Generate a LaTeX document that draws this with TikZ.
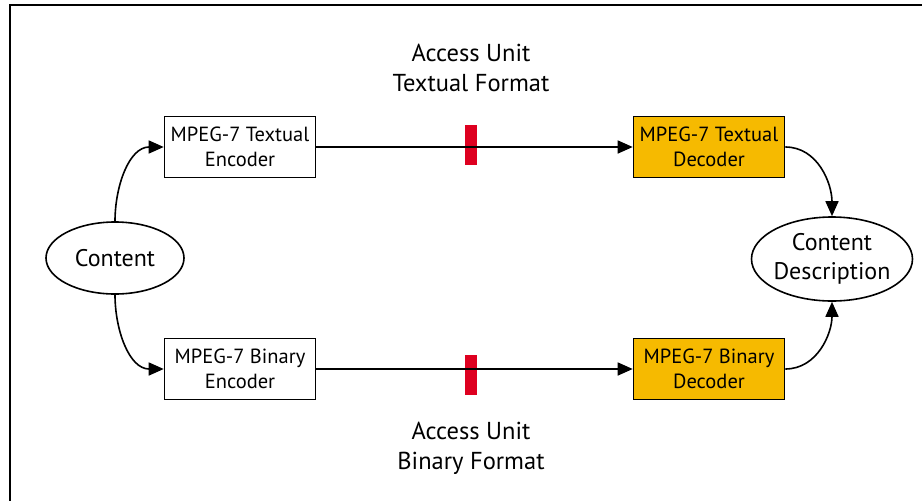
\documentclass[tikz,border=0pt]{standalone}
\usepackage{fontspec}
\setmainfont{PT Sans}
\usetikzlibrary{shapes.geometric,arrows.meta}
\definecolor{codecgold}{RGB}{246,186,0}
\definecolor{aured}{RGB}{222,0,32}
\begin{document}
\begin{tikzpicture}[x=1pt,y=-1pt,
  every node/.style={align=center},
  codec/.style={draw, line width=1.6pt, minimum width=151pt, minimum height=61pt, inner sep=0pt,
    font=\fontsize{20.5}{25}\selectfont},
  decoder/.style={codec, fill=codecgold},
  oval/.style={draw, ellipse, line width=1.6pt, inner sep=0pt, font=\fontsize{24}{29}\selectfont},
  marker/.style={fill=aured, minimum width=12pt, minimum height=40pt, inner sep=0pt},
  label/.style={font=\fontsize{24.5}{30}\selectfont},
  flow/.style={line width=1.6pt, -{Triangle[length=15pt,width=13pt]}}]
\useasboundingbox (0,0) rectangle (922,501);
\fill[white] (0,0) rectangle (922,501);
% frame
\draw[line width=2pt] (10,501) -- (10,5) -- (922,5);

% nodes
\node[oval, minimum width=138pt, minimum height=72pt] (content) at (115,258) {Content};
\node[codec] (tenc) at (240,147) {MPEG-7 Textual\\Encoder};
\node[codec] (benc) at (240,369) {MPEG-7 Binary\\Encoder};
\node[decoder] (tdec) at (709,147) {MPEG-7 Textual\\Decoder};
\node[decoder] (bdec) at (709,369) {MPEG-7 Binary\\Decoder};
\node[oval, inner xsep=-4pt, minimum width=161pt, minimum height=84pt] (desc) at (832,259) {Content\\Description};

% access unit markers
\node[marker] (tau) at (471,145) {};
\node[marker] (bau) at (471,375) {};
\node[label] (tlabel) at (471,68) {Access Unit\\Textual Format};
\node[label] (blabel) at (471,448) {Access Unit\\Binary Format};

% connectors
\draw[flow] (content.north) to[out=90,in=180] (tenc.west);
\draw[flow] (content.south) to[out=-90,in=180] (benc.west);
\draw[flow] (tenc.east) -- (tdec.west);
\draw[flow] (benc.east) -- (bdec.west);
\draw[flow] (tdec.east) to[out=0,in=90] (desc.north);
\draw[flow] (bdec.east) to[out=0,in=-90] (desc.south);
\end{tikzpicture}
\end{document}
